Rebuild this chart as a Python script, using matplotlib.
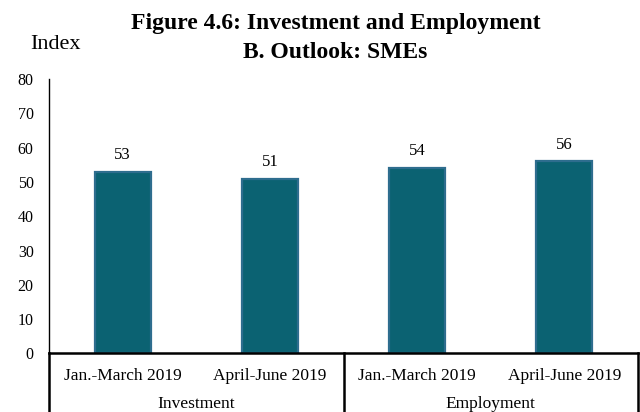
import numpy as np
import matplotlib.pyplot as plt
from matplotlib.transforms import blended_transform_factory

plt.rcParams['font.family'] = ['Liberation Serif', 'DejaVu Serif']

periods = ['Jan.-March 2019', 'April-June 2019', 'Jan.-March 2019', 'April-June 2019']
groups = ['Investment', 'Employment']
values = [53, 51, 54, 56]
yticks = [0, 10, 20, 30, 40, 50, 60, 70, 80]

fig = plt.figure(figsize=(6.4, 4.12), dpi=100)
ax = fig.add_axes([0.0766, 0.142, 0.9204, 0.666])

x = np.arange(len(values))
ax.bar(x, values, width=0.38, color='#0b6272', edgecolor='#2e6d8e', linewidth=1.6, zorder=2)
for xi, v in zip(x, values):
    ax.text(xi, v + 2.6, str(v), ha='center', va='bottom', fontsize=12)

ax.set_xlim(-0.5, len(values) - 0.5)
ax.set_ylim(0, 80)
ax.set_yticks(yticks)
ax.tick_params(axis='y', length=0, pad=11, labelsize=11.5)
ax.set_xticks([])
for s in ['top', 'right']:
    ax.spines[s].set_visible(False)
ax.spines['left'].set_linewidth(1.0)
ax.spines['bottom'].set_linewidth(1.8)

# category table under the axis
tr = blended_transform_factory(ax.transData, ax.transAxes)
for xl in [-0.5, 1.5, 3.5]:
    ax.plot([xl, xl], [0, -0.3], color='black', lw=1.8, transform=tr, clip_on=False)
for xi, p in zip(x, periods):
    ax.text(xi, -0.082, p, ha='center', va='center', fontsize=12.5, transform=tr)
for gi, g in enumerate(groups):
    ax.text(2 * gi + 0.5, -0.185, g, ha='center', va='center', fontsize=12.5, transform=tr)

fig.text(0.524, 0.942, 'Figure 4.6: Investment and Employment', ha='center', va='center',
         fontsize=17, fontweight='bold')
fig.text(0.524, 0.873, 'B. Outlook: SMEs', ha='center', va='center',
         fontsize=17, fontweight='bold')
fig.text(0.087, 0.893, 'Index', ha='center', va='center', fontsize=16)

fig.savefig('out.png', dpi=100)
